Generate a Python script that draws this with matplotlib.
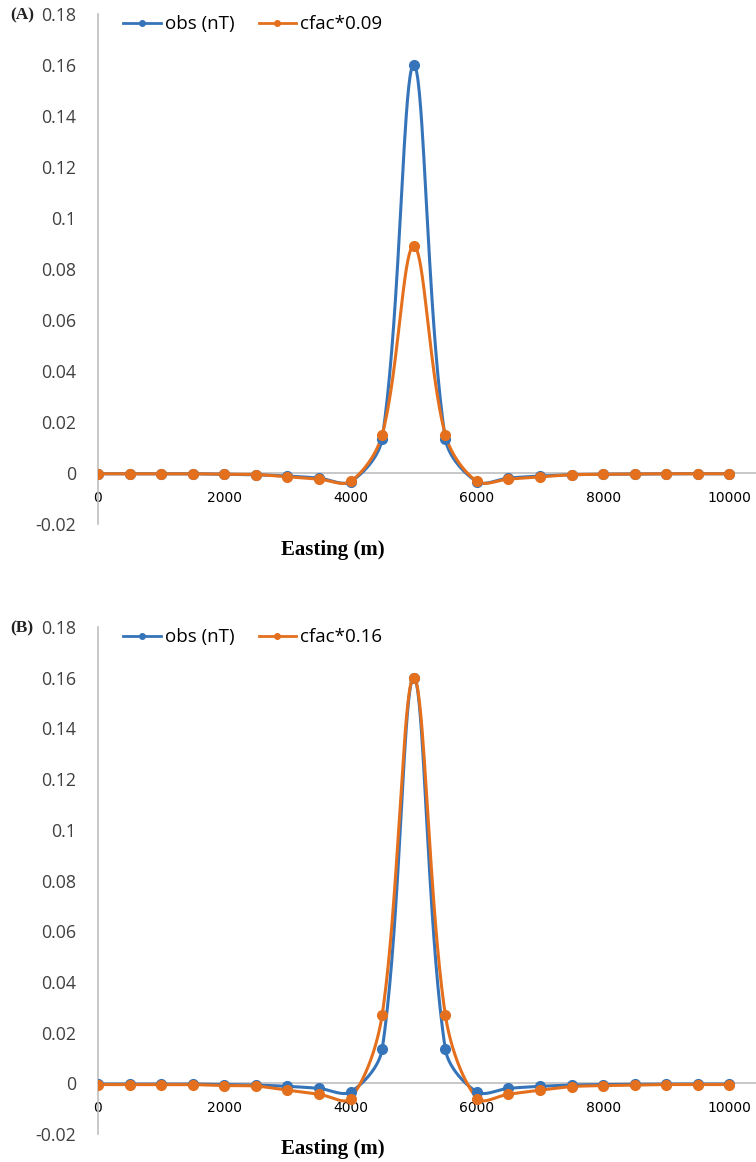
import numpy as np
import matplotlib
matplotlib.use("Agg")
import matplotlib.pyplot as plt
from matplotlib.lines import Line2D

easting = [0, 500, 1000, 1500, 2000, 2500, 3000, 3500, 4000, 4500, 5000,
           5500, 6000, 6500, 7000, 7500, 8000, 8500, 9000, 9500, 10000]

obs = [-0.0003, -0.0003, -0.0003, -0.0003, -0.0005, -0.0007, -0.0012, -0.0020,
       -0.0034, 0.0135, 0.160, 0.0135, -0.0034, -0.0020, -0.0012, -0.0007,
       -0.0005, -0.0004, -0.0003, -0.0003, -0.0003]

cfac_A = [-0.0003, -0.0003, -0.0003, -0.0003, -0.0005, -0.0006, -0.0015, -0.0024,
          -0.0033, 0.0150, 0.089, 0.0150, -0.0033, -0.0024, -0.0015, -0.0007,
          -0.0005, -0.0004, -0.0003, -0.0003, -0.0003]

cfac_B = [-0.0005, -0.0005, -0.0005, -0.0005, -0.0009, -0.0011, -0.0027, -0.0043,
          -0.0060, 0.0270, 0.160, 0.0270, -0.0060, -0.0043, -0.0027, -0.0013,
          -0.0009, -0.0007, -0.0005, -0.0005, -0.0005]

labels_A = ["obs (nT)", "cfac*0.09"]
labels_B = ["obs (nT)", "cfac*0.16"]
yticks = [-0.02, 0, 0.02, 0.04, 0.06, 0.08, 0.1, 0.12, 0.14, 0.16, 0.18]
ytick_labels = ["-0.02", "0", "0.02", "0.04", "0.06", "0.08", "0.1", "0.12",
                "0.14", "0.16", "0.18"]
xticks = [0, 2000, 4000, 6000, 8000, 10000]

BLUE = "#3674BA"
ORANGE = "#E4701E"
TICKFONT = "Open Sans"
TICKCOL = "#404040"

W, H = 756, 1162
XMAX = 10420
YMIN, YMAX = -0.02, 0.18


def smooth(x, y, sx, sy, n=40):
    """Excel-like smoothed line: Bezier segments with chord-length-weighted
    Catmull-Rom tangents, computed in screen units (sx, sy px per data unit)."""
    X = np.asarray(x, float) * sx
    Y = np.asarray(y, float) * sy
    P = np.column_stack([X, Y])
    m = len(P)
    out = []
    f = 1.0 / 3.0
    for i in range(m - 1):
        p0 = P[i - 1] if i > 0 else P[i]
        p1, p2 = P[i], P[i + 1]
        p3 = P[i + 2] if i + 2 < m else P[i + 1]
        d01 = np.hypot(*(p1 - p0))
        d12 = np.hypot(*(p2 - p1))
        d23 = np.hypot(*(p3 - p2))
        a = d12 / (d01 + d12) if d01 + d12 > 0 else 0
        b = d12 / (d12 + d23) if d12 + d23 > 0 else 0
        c1 = p1 + (p2 - p0) * f * a
        c2 = p2 - (p3 - p1) * f * b
        t = np.linspace(0, 1, n)[:, None]
        seg = ((1 - t) ** 3) * p1 + 3 * ((1 - t) ** 2) * t * c1 + 3 * (1 - t) * t ** 2 * c2 + t ** 3 * p2
        out.append(seg)
    pts = np.vstack(out)
    return pts[:, 0] / sx, pts[:, 1] / sy


fig = plt.figure(figsize=(W / 100, H / 100), dpi=100)


def panel(bottom_px, top_px, series2, labels, tag, label_y_px):
    left = 98 / W
    ax = fig.add_axes([left, 1 - bottom_px / H, 1 - left, (bottom_px - top_px) / H])
    sx = (W - 98) / XMAX
    sy = (bottom_px - top_px) / (YMAX - YMIN)
    for vals, col in [(obs, BLUE), (series2, ORANGE)]:
        cx, cy = smooth(easting, vals, sx, sy)
        ax.plot(cx, cy, color=col, lw=2.2, solid_capstyle="round", zorder=3)
        ax.plot(easting, vals, ls="none", marker="o", ms=7, color=col,
                markeredgecolor=col, zorder=4)
    ax.set_xlim(0, XMAX)
    ax.set_ylim(YMIN, YMAX)
    ax.set_yticks(yticks)
    ax.set_yticklabels(ytick_labels, fontfamily=TICKFONT, fontsize=12.8, color=TICKCOL)
    ax.set_xticks(xticks)
    ax.set_xticklabels([str(v) for v in xticks], fontfamily=TICKFONT, fontsize=13,
                       color=TICKCOL)
    ax.tick_params(axis="both", length=0)
    ax.tick_params(axis="y", pad=16)
    ax.tick_params(axis="x", pad=13)
    for s in ["top", "right"]:
        ax.spines[s].set_visible(False)
    ax.spines["left"].set_color("#BFBFBF")
    ax.spines["left"].set_linewidth(1.2)
    ax.spines["bottom"].set_position(("data", 0))
    ax.spines["bottom"].set_color("#BFBFBF")
    ax.spines["bottom"].set_linewidth(1.2)
    ax.set_facecolor("none")
    handles = [Line2D([0], [0], color=BLUE, lw=2, marker="o", ms=4),
               Line2D([0], [0], color=ORANGE, lw=2, marker="o", ms=4)]
    ax.legend(handles, labels, loc="upper left", bbox_to_anchor=(0.027, 1.012),
              ncol=2, frameon=False, handlelength=2.0, handletextpad=0.2,
              columnspacing=1.3, borderaxespad=0.0,
              prop={"family": TICKFONT, "size": 13.5})
    fig.text(0.44, 1 - label_y_px / H, "Easting (m)", fontfamily="Liberation Serif",
             fontweight="bold", fontsize=15, ha="center", va="center", color="black")
    fig.text(10 / W, 1 - (top_px + 1) / H, tag, fontfamily="Liberation Serif",
             fontweight="bold", fontsize=12.5, va="center", ha="left", color="#222222")
    return ax


panel(524, 14, cfac_A, labels_A, "(A)", 550)
panel(1134, 627, cfac_B, labels_B, "(B)", 1149)

fig.savefig("out.png", dpi=100)
